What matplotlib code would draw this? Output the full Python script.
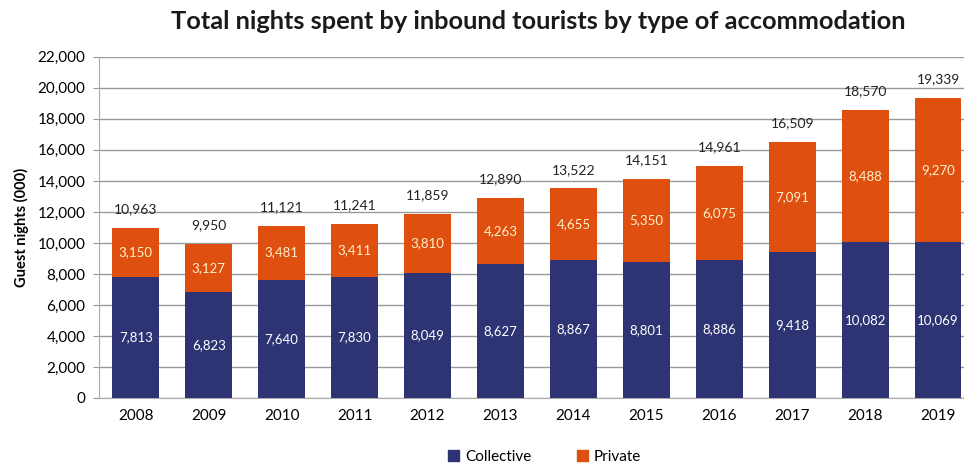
import matplotlib.pyplot as plt
import numpy as np
from matplotlib.patches import Patch

plt.rcParams['font.family'] = ['Lato', 'DejaVu Sans']

years = ['2008', '2009', '2010', '2011', '2012', '2013', '2014', '2015',
         '2016', '2017', '2018', '2019']
collective = [7813, 6823, 7640, 7830, 8049, 8627, 8867, 8801, 8886, 9418,
              10082, 10069]
private = [3150, 3127, 3481, 3411, 3810, 4263, 4655, 5350, 6075, 7091,
           8488, 9270]
totals = [10963, 9950, 11121, 11241, 11859, 12890, 13522, 14151, 14961,
          16509, 18570, 19339]

navy = '#2e3473'
orange = '#df4f10'

fig = plt.figure(figsize=(9.64, 4.66), dpi=100)
ax = fig.add_axes([0.103, 0.146, 0.908, 0.732])

x = np.arange(len(years))
w = 0.64
ax.bar(x, collective, w, color=navy, zorder=3)
ax.bar(x, private, w, bottom=collective, color=orange, zorder=3)

for i in range(len(years)):
	ax.text(x[i], collective[i] / 2, f"{collective[i]:,}", ha='center',
		va='center', color='white', fontsize=9.5, zorder=4)
	ax.text(x[i], collective[i] + private[i] / 2, f"{private[i]:,}",
		ha='center', va='center', color='#fff0c8', fontsize=9.5, zorder=4)
	ax.annotate(f"{totals[i]:,}", (x[i], totals[i]), xytext=(0, 9),
		textcoords='offset points', ha='center', va='bottom',
		fontsize=10, color='#222222', zorder=4)

ax.set_xlim(-0.5, len(years) - 0.5)
ax.set_ylim(0, 22000)
ax.set_yticks(np.arange(0, 22001, 2000))
ax.set_yticklabels([f"{v:,}" for v in range(0, 22001, 2000)], fontsize=11)
ax.set_xticks(x)
ax.set_xticklabels(years, fontsize=11)
ax.tick_params(axis='x', length=0, pad=8)
ax.tick_params(axis='y', length=4, color='#999999', pad=6)
ax.grid(axis='y', color='#9a9a9a', lw=1, zorder=0)
for s in ['top', 'right']:
	ax.spines[s].set_visible(False)
for s in ['left', 'bottom']:
	ax.spines[s].set_color('#aaaaaa')

ax.set_ylabel("Guest nights (000)", fontsize=10.5, fontweight='bold', labelpad=6)
fig.text(0.558, 0.953, "Total nights spent by inbound tourists by type of accommodation",
	ha='center', va='center', fontsize=18.3, fontweight='bold', color='#1a1a1a')

handles = [Patch(color=navy, label='Collective'), Patch(color=orange, label='Private')]
fig.legend(handles=handles, loc='center', bbox_to_anchor=(0.565, 0.02), ncol=2,
	frameon=False, fontsize=11, handlelength=0.7, handleheight=0.7,
	columnspacing=3, handletextpad=0.4)

plt.savefig("out.png", dpi=100)
